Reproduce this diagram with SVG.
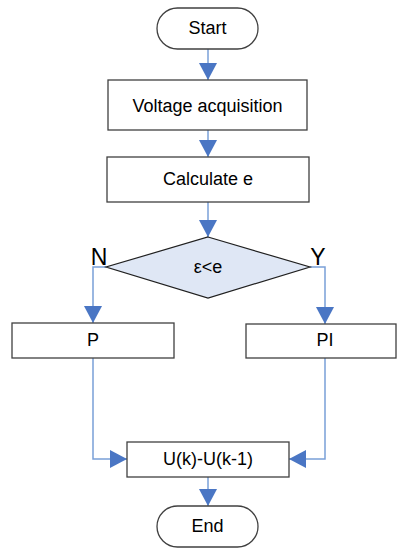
<svg xmlns="http://www.w3.org/2000/svg" width="397" height="548" viewBox="0 0 397 548">
<style>
.box{fill:#fff;stroke:#404040;stroke-width:1.3}
.dia{fill:#dfe7f5;stroke:#202020;stroke-width:1.2}
.t{font-family:"Liberation Sans",Arial,sans-serif;font-size:18px;fill:#000;text-anchor:middle}
.lbl{font-family:"Liberation Sans",Arial,sans-serif;font-size:23px;fill:#000;text-anchor:middle}
.c{fill:none;stroke:#7aa0d8;stroke-width:1.5}
</style>
<defs>
<marker id="ah" markerUnits="userSpaceOnUse" markerWidth="17" markerHeight="18" refX="17" refY="9" orient="auto" viewBox="0 0 17 18">
<path d="M0,0 L17,9 L0,18 z" fill="#4a76c4"/>
</marker>
</defs>
<g id="connectors">
<line class="c" x1="208" y1="49" x2="208" y2="80" marker-end="url(#ah)"/>
<line class="c" x1="208" y1="130" x2="208" y2="157" marker-end="url(#ah)"/>
<line class="c" x1="208" y1="202" x2="208" y2="237" marker-end="url(#ah)"/>
<polyline class="c" points="106,267 93,267 93,323" marker-end="url(#ah)"/>
<polyline class="c" points="310,267 325,267 325,324" marker-end="url(#ah)"/>
<polyline class="c" points="93,358 93,459 127,459" marker-end="url(#ah)"/>
<polyline class="c" points="325,358 325,459 289,459" marker-end="url(#ah)"/>
<line class="c" x1="208" y1="477" x2="208" y2="506" marker-end="url(#ah)"/>
</g>
<g id="start">
<rect class="box" x="157" y="8" width="101" height="41" rx="20.5"/>
<text class="t" x="207.5" y="34">Start</text>
</g>
<g id="voltage">
<rect class="box" x="108" y="80" width="199" height="50"/>
<text class="t" x="207.5" y="112">Voltage acquisition</text>
</g>
<g id="calc">
<rect class="box" x="107" y="157" width="202" height="45"/>
<text class="t" x="208" y="185">Calculate e</text>
</g>
<g id="decision">
<polygon class="dia" points="208,237 310,267 208,298 106,267"/>
<text class="t" x="208" y="273">ε&lt;e</text>
<text class="lbl" x="99" y="265">N</text>
<text class="lbl" x="318" y="265">Y</text>
</g>
<g id="p">
<rect class="box" x="12" y="323" width="162" height="35"/>
<text class="t" x="93" y="346">P</text>
</g>
<g id="pi">
<rect class="box" x="246" y="324" width="150" height="34"/>
<text class="t" x="325" y="346">PI</text>
</g>
<g id="u">
<rect class="box" x="127" y="442" width="162" height="35"/>
<text class="t" x="208" y="465">U(k)-U(k-1)</text>
</g>
<g id="end">
<rect class="box" x="157" y="506" width="101" height="41" rx="20.5"/>
<text class="t" x="207.5" y="532">End</text>
</g>
</svg>
